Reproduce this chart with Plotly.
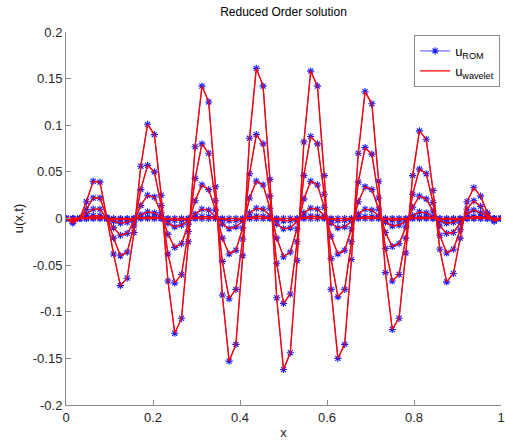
import numpy as np
import plotly.graph_objects as go

# grid (65 points on [0, 1])
x_grid = np.linspace(0.0, 1.0, 65)

# snapshots of u(x,t) (largest amplitude first)
u_t1 = [0.000, -0.005, 0.000, 0.018, 0.040, 0.039, 0.001, -0.038, -0.072, -0.064,
        -0.015, 0.056, 0.101, 0.090, 0.025, -0.067, -0.123, -0.107, -0.025, 0.077,
        0.142, 0.125, 0.034, -0.082, -0.153, -0.135, -0.040, 0.086, 0.161, 0.142,
        0.042, -0.085, -0.162, -0.144, -0.045, 0.082, 0.158, 0.142, 0.046, -0.076,
        -0.150, -0.135, -0.044, 0.070, 0.136, 0.123, 0.040, -0.058, -0.119, -0.107,
        -0.037, 0.046, 0.094, 0.085, 0.030, -0.033, -0.068, -0.059, -0.021, 0.018,
        0.033, 0.024, 0.006, -0.003, 0.000]
u_t2 = [0.000, -0.003, 0.000, 0.010, 0.022, 0.022, 0.001, -0.021, -0.040, -0.036,
        -0.008, 0.031, 0.057, 0.050, 0.014, -0.038, -0.069, -0.060, -0.014, 0.043,
        0.080, 0.070, 0.019, -0.046, -0.086, -0.076, -0.022, 0.048, 0.090, 0.080,
        0.024, -0.048, -0.091, -0.081, -0.025, 0.046, 0.088, 0.080, 0.026, -0.043,
        -0.084, -0.076, -0.025, 0.039, 0.076, 0.069, 0.022, -0.032, -0.067, -0.060,
        -0.021, 0.026, 0.053, 0.048, 0.017, -0.018, -0.037, -0.033, -0.012, 0.010,
        0.019, 0.013, 0.003, -0.002, 0.000]
u_t3 = [0.000, -0.001, 0.000, 0.005, 0.010, 0.010, 0.000, -0.010, -0.018, -0.016,
        -0.004, 0.014, 0.025, 0.023, 0.006, -0.017, -0.031, -0.027, -0.006, 0.019,
        0.036, 0.031, 0.009, -0.021, -0.038, -0.034, -0.010, 0.022, 0.040, 0.036,
        0.011, -0.021, -0.041, -0.036, -0.011, 0.021, 0.040, 0.036, 0.012, -0.019,
        -0.038, -0.034, -0.011, 0.018, 0.034, 0.031, 0.010, -0.015, -0.030, -0.027,
        -0.009, 0.012, 0.024, 0.021, 0.008, -0.008, -0.016, -0.015, -0.005, 0.005,
        0.009, 0.006, 0.002, -0.001, 0.000]
u_t4 = [0.000, 0.000, 0.000, 0.001, 0.003, 0.003, 0.000, -0.003, -0.005, -0.004,
        -0.001, 0.004, 0.007, 0.006, 0.002, -0.005, -0.009, -0.007, -0.002, 0.005,
        0.010, 0.009, 0.002, -0.006, -0.011, -0.009, -0.003, 0.006, 0.011, 0.010,
        0.003, -0.006, -0.011, -0.010, -0.003, 0.006, 0.011, 0.010, 0.003, -0.005,
        -0.010, -0.009, -0.003, 0.005, 0.010, 0.009, 0.003, -0.004, -0.008, -0.007,
        -0.003, 0.003, 0.007, 0.006, 0.002, -0.002, -0.005, -0.004, -0.001, 0.001,
        0.002, 0.002, 0.000, 0.000, 0.000]
u_t5 = [0.0, 0.0, 0.0, 0.0, 0.001, 0.001, 0.0, -0.001, -0.001, -0.001,
        0.0, 0.001, 0.0015, 0.0014, 0.0004, -0.001, -0.002, -0.0016, -0.0004, 0.0012,
        0.002, 0.002, 0.0005, -0.0012, -0.0023, -0.002, -0.0006, 0.0013, 0.0024, 0.0021,
        0.0006, -0.0013, -0.0024, -0.0022, -0.0007, 0.0012, 0.0024, 0.0021, 0.0007, -0.0011,
        -0.0023, -0.002, -0.0007, 0.0011, 0.002, 0.0018, 0.0006, -0.0009, -0.0018, -0.0016,
        -0.0006, 0.0007, 0.0014, 0.0013, 0.0005, -0.0005, -0.001, -0.0009, -0.0003, 0.0003,
        0.0005, 0.0004, 0.0001, 0.0, 0.0]
u_t6 = [0.0] * 65

snapshots = [u_t6, u_t5, u_t4, u_t3, u_t2, u_t1]

x_tickvals = [0, 0.2, 0.4, 0.6, 0.8, 1]
x_ticktext = ["0", "0.2", "0.4", "0.6", "0.8", "1"]
y_tickvals = [-0.2, -0.15, -0.1, -0.05, 0, 0.05, 0.1, 0.15, 0.2]
y_ticktext = ["-0.2", "-0.15", "-0.1", "-0.05", "0", "0.05", "0.1", "0.15", "0.2"]

FONT = "Liberation Sans, Arial, Helvetica, sans-serif"

fig = go.Figure()
for i, u in enumerate(snapshots):
    fig.add_trace(go.Scatter(
        x=x_grid, y=u, mode="lines+markers",
        line=dict(color="#0000ff", width=0.7),
        marker=dict(symbol="asterisk-open", size=6, color="#1a1aff",
                    line=dict(color="#1a1aff", width=1.1)),
        name="u<sub>ROM</sub>", showlegend=(i == 0), legendrank=1,
    ))
for i, u in enumerate(snapshots):
    fig.add_trace(go.Scatter(
        x=x_grid, y=u, mode="lines",
        line=dict(color="#ff0000", width=1.4),
        name="u<sub>wavelet</sub>", showlegend=(i == 0), legendrank=2,
    ))

axis_common = dict(
    showgrid=False, zeroline=False, showline=True, linecolor="#8a8a8a", linewidth=1,
    ticks="inside", ticklen=5, tickcolor="#8a8a8a", mirror=False, automargin=False,
    tickfont=dict(family=FONT, size=13, color="#262626"),
)

fig.update_layout(
    width=505, height=442,
    margin=dict(l=66, r=4, t=32, b=37),
    paper_bgcolor="white", plot_bgcolor="white",
    title=dict(text="Reduced Order solution", x=0.5, xref="paper", xanchor="center",
               y=1 - 12 / 442, yref="container", yanchor="middle",
               font=dict(family=FONT, size=12, color="#000000")),
    xaxis=dict(range=[0, 1], tickvals=x_tickvals, ticktext=x_ticktext,
               title=dict(text="x", standoff=4, font=dict(family=FONT, size=13, color="#262626")),
               **axis_common),
    yaxis=dict(range=[-0.2, 0.2], tickvals=y_tickvals, ticktext=y_ticktext,
               title=dict(text="u(x,t)", standoff=6, font=dict(family=FONT, size=13, color="#262626")),
               **axis_common),
    legend=dict(x=0.998, y=0.992, xanchor="right", yanchor="top",
                bgcolor="white", bordercolor="#8a8a8a", borderwidth=1,
                font=dict(family=FONT, size=13, color="#000000"),
                itemwidth=30, tracegroupgap=6),
    showlegend=True,
)

fig.write_html("out.html")
